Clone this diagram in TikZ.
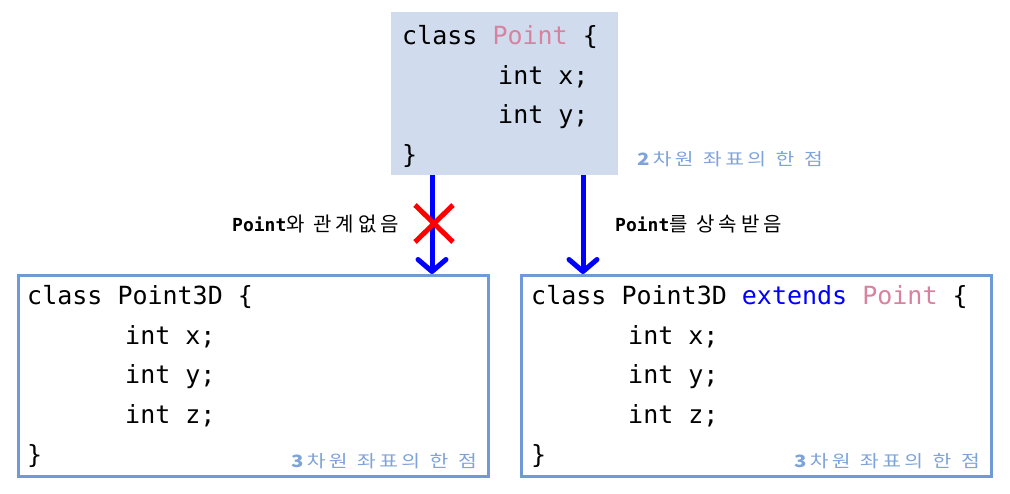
\documentclass[tikz,border=0pt]{standalone}
\usepackage{fontspec}
\setmonofont{DejaVu Sans Mono}
\newfontfamily\kr[LetterSpace=20]{Noto Sans CJK KR}
\newfontfamily\krnote[LetterSpace=16]{Noto Sans CJK KR}
\usetikzlibrary{arrows.meta}
\definecolor{boxfill}{RGB}{208,220,238}
\definecolor{boxline}{RGB}{112,154,214}
\definecolor{notecol}{RGB}{126,163,218}
\definecolor{pinkcol}{RGB}{216,130,160}
\definecolor{extcol}{RGB}{0,0,255}
\definecolor{arrcol}{RGB}{0,0,255}
\definecolor{xcol}{RGB}{255,0,0}
\newcommand{\notetext}[1]{\scalebox{1.2}[1]{\textbf{#1}차원\hspace{8pt}좌표의\hspace{8pt}한\hspace{8pt}점}}
\tikzset{
  code/.style={font=\ttfamily\fontsize{25}{25}\selectfont, anchor=base west, inner sep=0pt},
  note/.style={font=\krnote\fontsize{17}{17}\selectfont, text=notecol, anchor=base east, inner sep=0pt},
  lbl/.style={font=\fontsize{18}{18}\selectfont, anchor=base west, inner sep=0pt},
  classbox/.style={draw=boxline, line width=3pt, minimum width=470pt, minimum height=201pt, inner sep=0pt},
  inh/.style={draw=arrcol, line width=5pt, -{Straight Barb[length=12pt,width=28pt,line cap=round,line join=round]}},
  cross/.style={draw=xcol, line width=5pt}
}
\begin{document}
\begin{tikzpicture}[x=1pt,y=-1pt]
\useasboundingbox (0,0) rectangle (1010,494);
% top box
\node[fill=boxfill, minimum width=227pt, minimum height=163pt, inner sep=0pt] (top) at (504.5,93.5) {};
\node[code] (t1) at (402,45) {class \textcolor{pinkcol}{Point} \{};
\node[code] (t2) at (498,84.5) {int x;};
\node[code] (t3) at (498,124) {int y;};
\node[code] (t4) at (402,163.5) {\}};
\node[note] (tn) at (823,166) {\notetext{2}};
% left box
\node[classbox] (L) at (253.5,376) {};
\node[code] (l1) at (27,305) {class Point3D \{};
\node[code] (l2) at (125,344.5) {int x;};
\node[code] (l3) at (125,384) {int y;};
\node[code] (l4) at (125,423.5) {int z;};
\node[code] (l5) at (27,463) {\}};
\node[note] (ln) at (477,467) {\notetext{3}};
% right box
\node[classbox] (R) at (756.5,376) {};
\node[code] (r1) at (531,305) {class Point3D \textcolor{extcol}{extends} \textcolor{pinkcol}{Point} \{};
\node[code] (r2) at (628,344.5) {int x;};
\node[code] (r3) at (628,384) {int y;};
\node[code] (r4) at (628,423.5) {int z;};
\node[code] (r5) at (531,463) {\}};
\node[note] (rn) at (980,467) {\notetext{3}};
% arrows
\coordinate (xl) at (432,0);
\coordinate (xr) at (583,0);
\draw[inh] (top.south -| xl) -- (L.north -| xl);
\draw[inh] (top.south -| xr) -- (R.north -| xr);
% cross
\coordinate (c1) at (415,205);
\coordinate (c2) at (453,242);
\coordinate (c3) at (453,205);
\coordinate (c4) at (415,242);
\draw[cross] (c1) -- (c2);
\draw[cross] (c3) -- (c4);
% labels
\node[lbl] (la) at (232,232) {{\ttfamily\bfseries Point}{\kr\fontsize{20}{20}\selectfont 와 관계없음}};
\node[lbl] (lb) at (615,232) {{\ttfamily\bfseries Point}{\kr\fontsize{20}{20}\selectfont 를 상속받음}};
\end{tikzpicture}
\end{document}
